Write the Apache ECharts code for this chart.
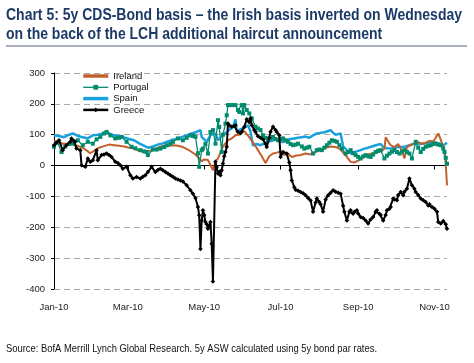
<!DOCTYPE html>
<html><head><meta charset="utf-8">
<script src="https://cdn.jsdelivr.net/npm/echarts@6/dist/echarts.min.js"></script>
<style>html,body{margin:0;padding:0;background:#fff}#c{width:474px;height:363px}</style>
</head><body><div id="c"></div>
<script>
// x = days since 1 Jan 2010
const xTickDays = [0, 59, 120, 181, 243, 304];
const xTickLabels = ['Jan-10', 'Mar-10', 'May-10', 'Jul-10', 'Sep-10', 'Nov-10'];
const yTicks = [-400, -300, -200, -100, 0, 100, 200, 300];
const seriesNames = ['Ireland', 'Portugal', 'Spain', 'Greece'];

const ireland = [[0,80],[4,76],[8,70],[12,72],[16,68],[20,62],[24,55],[27,46],[29,40],[32,48],[36,58],[40,63],[44,68],[48,66],[52,64],[56,62],[60,58],[64,55],[68,48],[72,44],[75,47],[79,50],[83,58],[87,64],[91,63],[95,66],[99,64],[103,60],[107,52],[110,44],[113,36],[116,24],[118,14],[120,20],[123,18],[125,2],[127,-15],[129,14],[131,23],[133,42],[135,62],[137,72],[139,82],[142,88],[145,98],[148,100],[150,108],[152,112],[154,102],[156,92],[158,80],[160,70],[163,50],[166,30],[169,8],[172,30],[175,39],[178,42],[181,46],[184,34],[187,38],[190,28],[193,32],[197,34],[201,39],[205,36],[209,44],[213,52],[217,58],[221,62],[225,60],[228,55],[231,42],[234,28],[237,12],[240,10],[243,16],[247,26],[251,36],[255,40],[259,44],[262,48],[264,55],[265,92],[267,78],[269,66],[272,60],[275,70],[278,48],[280,23],[282,60],[285,66],[288,72],[291,76],[294,70],[297,74],[300,80],[303,78],[305,90],[307,104],[309,84],[311,60],[312,40],[313,5],[314,-64]];

const portugal = [[0,61],[3,74],[6,44],[9,62],[12,70],[15,71],[19,82],[23,66],[27,77],[31,71],[34,85],[37,93],[40,104],[42,109],[45,98],[49,88],[52,90],[54,93],[58,77],[62,61],[65,56],[69,50],[72,46],[74,44],[75,34],[79,52],[82,52],[85,55],[88,60],[90,66],[93,70],[95,77],[99,88],[103,82],[106,90],[109,98],[111,96],[113,93],[115,40],[116,-4],[118,50],[119,55],[121,70],[123,39],[125,109],[127,115],[129,71],[131,147],[132,125],[134,44],[135,100],[137,136],[138,163],[139,196],[141,196],[143,196],[145,196],[147,180],[148,174],[150,196],[151,169],[152,196],[154,180],[156,169],[158,153],[161,126],[163,120],[165,115],[167,98],[169,90],[171,82],[173,88],[175,93],[177,86],[179,82],[181,86],[183,88],[185,82],[187,77],[189,70],[191,66],[193,68],[195,71],[198,62],[200,55],[202,58],[204,61],[207,39],[210,50],[212,52],[214,50],[216,58],[218,66],[220,74],[222,82],[224,80],[226,77],[228,66],[230,55],[233,39],[235,44],[237,50],[239,40],[241,34],[243,28],[245,23],[247,30],[249,34],[251,30],[253,28],[255,36],[257,44],[259,48],[261,50],[264,23],[266,32],[268,39],[270,45],[272,50],[274,44],[276,39],[278,45],[280,50],[282,44],[284,39],[286,23],[289,77],[291,58],[293,44],[295,54],[297,61],[299,64],[301,66],[303,70],[305,71],[307,68],[309,66],[311,55],[312,44],[313,25],[314,6]];

const spain = [[0,98],[4,96],[8,92],[12,100],[15,104],[19,96],[23,92],[27,88],[31,98],[35,100],[39,104],[42,109],[45,102],[48,98],[52,95],[56,91],[60,86],[64,82],[68,72],[71,66],[75,58],[79,62],[83,68],[87,72],[91,78],[95,84],[99,88],[103,94],[106,98],[110,104],[114,109],[117,115],[118,93],[120,85],[122,77],[125,98],[127,102],[129,104],[131,82],[134,95],[137,105],[140,115],[143,125],[145,150],[146,109],[149,118],[151,120],[153,125],[155,131],[157,110],[159,65],[162,70],[165,66],[168,72],[171,77],[174,80],[177,84],[180,80],[183,76],[186,82],[189,86],[192,88],[195,90],[198,92],[201,94],[204,90],[207,98],[210,104],[213,106],[216,108],[219,112],[221,115],[223,106],[225,100],[227,102],[229,104],[231,62],[234,50],[237,40],[240,44],[242,46],[245,50],[248,55],[251,58],[254,62],[257,66],[261,70],[263,60],[266,56],[269,55],[272,58],[275,60],[278,60],[281,62],[284,66],[287,70],[290,71],[293,70],[296,72],[299,75],[302,77],[305,74],[308,71],[310,60],[312,68],[314,74]];

const greece = [[0,66],[2,75],[4,82],[7,50],[10,66],[13,77],[14,88],[16,80],[17,77],[18,55],[21,50],[22,1],[25,-4],[27,23],[29,12],[31,17],[34,50],[35,17],[38,34],[40,36],[42,39],[44,34],[46,28],[49,12],[51,8],[53,1],[55,-10],[58,-4],[61,-31],[63,-42],[66,-37],[69,-42],[71,-36],[73,-31],[75,-21],[78,-4],[81,-21],[83,-14],[85,-10],[87,-15],[89,-21],[91,-26],[93,-31],[95,-36],[97,-42],[99,-45],[101,-48],[103,-52],[106,-64],[109,-80],[111,-91],[113,-105],[115,-134],[116,-161],[117,-270],[118,-178],[119,-145],[120,-160],[121,-183],[122,-190],[123,-205],[124,-195],[125,-183],[126,-253],[127,-376],[129,12],[130,-5],[131,-26],[132,-20],[133,-31],[134,-15],[135,7],[136,30],[137,44],[138,61],[139,136],[140,130],[142,126],[144,128],[145,131],[147,109],[149,105],[150,110],[152,125],[154,150],[156,140],[157,153],[158,131],[160,115],[161,109],[163,95],[165,90],[167,85],[169,70],[170,60],[172,90],[173,110],[175,126],[177,115],[178,109],[180,98],[181,28],[183,44],[186,39],[188,10],[189,-15],[190,-48],[192,-70],[193,-78],[195,-82],[197,-86],[199,-90],[201,-96],[203,-105],[205,-113],[207,-150],[209,-120],[210,-107],[212,-118],[213,-125],[215,-150],[217,-110],[219,-96],[221,-88],[223,-80],[225,-85],[227,-88],[229,-91],[231,-130],[232,-150],[234,-178],[236,-150],[237,-145],[239,-156],[240,-150],[242,-145],[243,-155],[245,-167],[247,-170],[249,-178],[251,-188],[253,-175],[255,-167],[257,-150],[258,-145],[260,-156],[261,-160],[263,-178],[265,-160],[266,-145],[268,-140],[269,-134],[271,-107],[272,-110],[274,-112],[275,-95],[277,-86],[279,-96],[280,-85],[282,-75],[284,-42],[286,-64],[288,-75],[289,-86],[291,-95],[293,-107],[295,-112],[297,-118],[299,-129],[300,-125],[302,-134],[304,-140],[306,-150],[307,-183],[309,-188],[311,-180],[313,-190],[314,-205]];

const titleLines = ['Chart 5: 5y CDS-Bond basis \u2013 the Irish basis inverted on Wednesday',
                    'on the back of the LCH additional haircut announcement'];
const sourceText = 'Source: BofA Merrill Lynch Global Research. 5y ASW calculated using 5y bond par rates.';

const FONT = '"Liberation Sans", Arial, sans-serif';
const ctx = document.createElement('canvas').getContext('2d');
function measure(t, f) { ctx.font = f; return ctx.measureText(t).width; }
const titleScale = 456 / measure(titleLines[0], 'bold 16px "Liberation Sans"');
const srcScale = 371 / measure(sourceText, '10.5px "Liberation Sans"');

const chart = echarts.init(document.getElementById('c'), null, {renderer: 'canvas'});
const lbl = {fontFamily: FONT, fontSize: 9.5, color: '#222'};
const thickIcon = 'path://M0,0H25V3.5H0Z';
chart.setOption({
  animation: false,
  backgroundColor: '#fff',
  grid: {left: 54, right: 27, top: 73, bottom: 74},
  legend: {
    data: [
      {name: seriesNames[0], icon: thickIcon},
      {name: seriesNames[1], lineStyle: {width: 1.3}},
      {name: seriesNames[2], icon: thickIcon},
      {name: seriesNames[3], lineStyle: {width: 2.5}}
    ],
    orient: 'vertical', left: 77, top: 66, symbolKeepAspect: true,
    itemWidth: 25, itemHeight: 6, itemGap: 1.3,
    textStyle: {fontFamily: FONT, fontSize: 9.5, color: '#111', lineHeight: 10}
  },
  xAxis: [{
    type: 'value', min: 0, max: 314,
    axisLine: {onZero: true, lineStyle: {color: '#000', width: 1}},
    axisTick: {show: true, inside: false, length: 4, lineStyle: {color: '#000'}, customValues: xTickDays},
    axisLabel: {show: false},
    splitLine: {show: false}
  }, {
    type: 'value', min: 0, max: 314, position: 'bottom',
    axisLine: {show: false, onZero: false}, axisTick: {show: false}, splitLine: {show: false},
    axisLabel: Object.assign({margin: 13, customValues: xTickDays,
      formatter: v => { const i = xTickDays.indexOf(v); return i >= 0 ? xTickLabels[i] : ''; }}, lbl)
  }],
  yAxis: {
    type: 'value', min: -400, max: 300, interval: 100,
    axisLine: {show: true, lineStyle: {color: '#000'}},
    axisTick: {show: true, length: 3, lineStyle: {color: '#000'}},
    axisLabel: Object.assign({margin: 9}, lbl),
    splitLine: {show: true, lineStyle: {color: '#aaa', type: [6, 4], width: 1}}
  },
  series: [
    {name: 'Spain', type: 'line', data: spain, symbol: 'none', z: 2,
     lineStyle: {color: '#1aa0dc', width: 2.5}, itemStyle: {color: '#1aa0dc'}},
    {name: 'Ireland', type: 'line', data: ireland, symbol: 'none', z: 3,
     lineStyle: {color: '#c4602c', width: 2}, itemStyle: {color: '#c4602c'}},
    {name: 'Portugal', type: 'line', data: portugal, symbol: 'rect', symbolSize: 4, showAllSymbol: true, z: 4,
     lineStyle: {color: '#008c6c', width: 1.3}, itemStyle: {color: '#008c6c'}},
    {name: 'Greece', type: 'line', data: greece, symbol: 'diamond', symbolSize: 4.5, showAllSymbol: true, z: 5,
     lineStyle: {color: '#000', width: 2}, itemStyle: {color: '#000'}}
  ],
  graphic: [
    {type: 'text', left: 6, top: 8, scaleX: titleScale, originX: 0,
     style: {text: titleLines[0], font: 'bold 16px ' + FONT, fill: '#1c3a66'}},
    {type: 'text', left: 6, top: 26.5, scaleX: titleScale, originX: 0,
     style: {text: titleLines[1], font: 'bold 16px ' + FONT, fill: '#1c3a66'}},
    {type: 'line', shape: {x1: 6, y1: 46, x2: 467, y2: 46}, style: {stroke: '#55627a', lineWidth: 1}},
    {type: 'text', left: 6, top: 344, scaleX: srcScale, originX: 0,
     style: {text: sourceText, font: '10.5px ' + FONT, fill: '#111'}}
  ]
});
</script></body></html>
